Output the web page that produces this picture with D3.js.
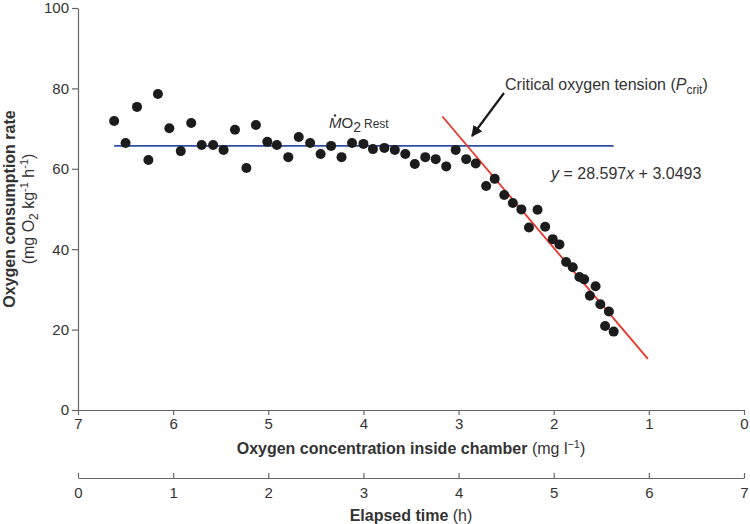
<!DOCTYPE html>
<html>
<head>
<meta charset="utf-8">
<script src="https://cdn.jsdelivr.net/npm/d3@7/dist/d3.min.js"></script>
<style>
  html, body { margin: 0; padding: 0; background: #fff; }
  svg { display: block; font-family: "Liberation Sans", Arial, Helvetica, sans-serif; }
</style>
</head>
<body>
<svg id="chart" width="750" height="524"></svg>
<script>
// ---- data ----
const oxygenConc = [6.62, 6.50, 6.38, 6.26, 6.16, 6.04, 5.92, 5.81, 5.70, 5.58,
  5.47, 5.35, 5.23, 5.13, 5.01, 4.91, 4.79, 4.68, 4.56, 4.45,
  4.34, 4.23, 4.12, 4.00, 3.90, 3.78, 3.67, 3.56, 3.46, 3.35,
  3.24, 3.13, 3.03, 2.92, 2.82, 2.71, 2.62, 2.52, 2.43, 2.34,
  2.26, 2.17, 2.09, 2.01, 1.94, 1.87, 1.80, 1.73, 1.68, 1.62,
  1.56, 1.51, 1.46, 1.42, 1.37];
const consumptionRate = [71.9, 66.4, 75.4, 62.2, 78.6, 70.1, 64.4, 71.4, 65.9, 65.9,
  64.7, 69.7, 60.2, 70.9, 66.7, 65.9, 62.9, 67.9, 66.4, 63.7,
  65.7, 62.9, 66.4, 66.2, 64.9, 65.2, 64.7, 63.7, 61.2, 62.9,
  62.4, 60.6, 64.7, 62.4, 61.3, 55.7, 57.5, 53.5, 51.5, 49.9,
  45.4, 49.8, 45.6, 42.5, 41.2, 36.8, 35.5, 33.1, 32.5, 28.4,
  30.8, 26.3, 20.9, 24.5, 19.5];
const restLine = [[6.62, 65.7], [1.37, 65.7]];
const pcritLine = [[3.17, 73.0], [1.01, 12.7]];
const yTicks = [0, 20, 40, 60, 80, 100];
const xTicks = [7, 6, 5, 4, 3, 2, 1, 0];
const timeTicks = [0, 1, 2, 3, 4, 5, 6, 7];

// ---- scales ----
const svg = d3.select("#chart");
const x = d3.scaleLinear().domain([7, 0]).range([78, 744]);
const y = d3.scaleLinear().domain([0, 100]).range([410, 8]);
const t = d3.scaleLinear().domain([0, 7]).range([78, 744]);

const axisColor = "#666";
const textColor = "#333";

function styleAxis(g) {
  g.select(".domain").attr("stroke", axisColor).attr("stroke-width", 1.2);
  g.selectAll(".tick line").attr("stroke", axisColor).attr("stroke-width", 1.2);
  g.selectAll(".tick text").attr("fill", textColor).style("font-size", "15px")
    .style("font-family", "'Liberation Sans', Arial, sans-serif");
}

const fmt = d3.format("d");

// y axis
svg.append("g").attr("transform", "translate(78,0)")
  .call(d3.axisLeft(y).tickValues(yTicks).tickFormat(fmt).tickSize(6).tickSizeOuter(0).tickPadding(3))
  .call(styleAxis);

// x axis (oxygen)
svg.append("g").attr("transform", "translate(0,410)")
  .call(d3.axisBottom(x).tickValues(xTicks).tickFormat(fmt).tickSize(5).tickSizeOuter(0).tickPadding(3))
  .call(styleAxis);

// time axis
svg.append("g").attr("transform", "translate(0,478)")
  .call(d3.axisBottom(t).tickValues(timeTicks).tickFormat(fmt).tickSize(-5).tickSizeOuter(0).tickPadding(9))
  .call(styleAxis);

// axis titles
const xTitle = svg.append("text").attr("x", 411).attr("y", 454)
  .attr("text-anchor", "middle").attr("fill", textColor).style("font-size", "16px");
xTitle.append("tspan").attr("font-weight", "bold").text("Oxygen concentration inside chamber");
xTitle.append("tspan").text(" (mg l");
xTitle.append("tspan").attr("dy", -6).style("font-size", "11px").text("\u22121");
xTitle.append("tspan").attr("dy", 6).text(")");

const tTitle = svg.append("text").attr("x", 411).attr("y", 521)
  .attr("text-anchor", "middle").attr("fill", textColor).style("font-size", "16px");
tTitle.append("tspan").attr("font-weight", "bold").text("Elapsed time");
tTitle.append("tspan").text(" (h)");

const yTitle = svg.append("g").attr("transform", "translate(0,209) rotate(-90)");
yTitle.append("text").attr("x", 0).attr("y", 15).attr("text-anchor", "middle")
  .attr("fill", textColor).attr("font-weight", "bold").style("font-size", "16px")
  .text("Oxygen consumption rate");
const y2 = yTitle.append("text").attr("x", 0).attr("y", 34).attr("text-anchor", "middle")
  .attr("fill", textColor).style("font-size", "16px");
y2.append("tspan").text("(mg O");
y2.append("tspan").attr("dy", 4).style("font-size", "12px").text("2");
y2.append("tspan").attr("dy", -4).text(" kg");
y2.append("tspan").attr("dy", -6).style("font-size", "11px").text("-1");
y2.append("tspan").attr("dy", 6).text(" h");
y2.append("tspan").attr("dy", -6).style("font-size", "11px").text("-1");
y2.append("tspan").attr("dy", 6).text(")");

// lines
const line = d3.line().x(d => x(d[0])).y(d => y(d[1]));
svg.append("path").datum(restLine).attr("d", line)
  .attr("stroke", "#2f4fa0").attr("stroke-width", 1.8).attr("fill", "none");
svg.append("path").datum(pcritLine).attr("d", line)
  .attr("stroke", "#e8352b").attr("stroke-width", 1.8).attr("fill", "none");

// points
svg.append("g").selectAll("circle")
  .data(oxygenConc.map((v, i) => [v, consumptionRate[i]]))
  .join("circle")
  .attr("cx", d => x(d[0])).attr("cy", d => y(d[1])).attr("r", 5)
  .attr("fill", "#1c1c1c");

// MO2 Rest label
const mo = svg.append("text").attr("x", 329).attr("y", 128).attr("fill", textColor)
  .style("font-size", "15px");
mo.append("tspan").attr("font-style", "italic").text("M");
mo.append("tspan").text("O");
mo.append("tspan").attr("dy", 4).style("font-size", "14px").text("2");
mo.append("tspan").attr("dy", -4).attr("dx", 3).style("font-size", "12px").text("Rest");
svg.append("circle").attr("cx", 335).attr("cy", 115.5).attr("r", 1.2).attr("fill", textColor);

// Pcrit annotation
const pc = svg.append("text").attr("x", 505).attr("y", 90).attr("fill", textColor)
  .style("font-size", "16px");
pc.append("tspan").text("Critical oxygen tension (");
pc.append("tspan").attr("font-style", "italic").text("P");
pc.append("tspan").attr("dy", 4).style("font-size", "12px").text("crit");
pc.append("tspan").attr("dy", -4).text(")");

// arrow
svg.append("defs").append("marker").attr("id", "ah")
  .attr("viewBox", "0 0 10 10").attr("refX", 9).attr("refY", 5)
  .attr("markerWidth", 5).attr("markerHeight", 5).attr("orient", "auto")
  .append("path").attr("d", "M0,0 L10,5 L0,10 z").attr("fill", "#1a1a1a");
svg.append("line").attr("x1", 504).attr("y1", 93).attr("x2", 472).attr("y2", 136)
  .attr("stroke", "#1a1a1a").attr("stroke-width", 2.2).attr("marker-end", "url(#ah)");

// equation
const eq = svg.append("text").attr("x", 551).attr("y", 179).attr("fill", textColor)
  .style("font-size", "16px");
eq.append("tspan").attr("font-style", "italic").text("y");
eq.append("tspan").text(" = 28.597");
eq.append("tspan").attr("font-style", "italic").text("x");
eq.append("tspan").text(" + 3.0493");
</script>
</body>
</html>
